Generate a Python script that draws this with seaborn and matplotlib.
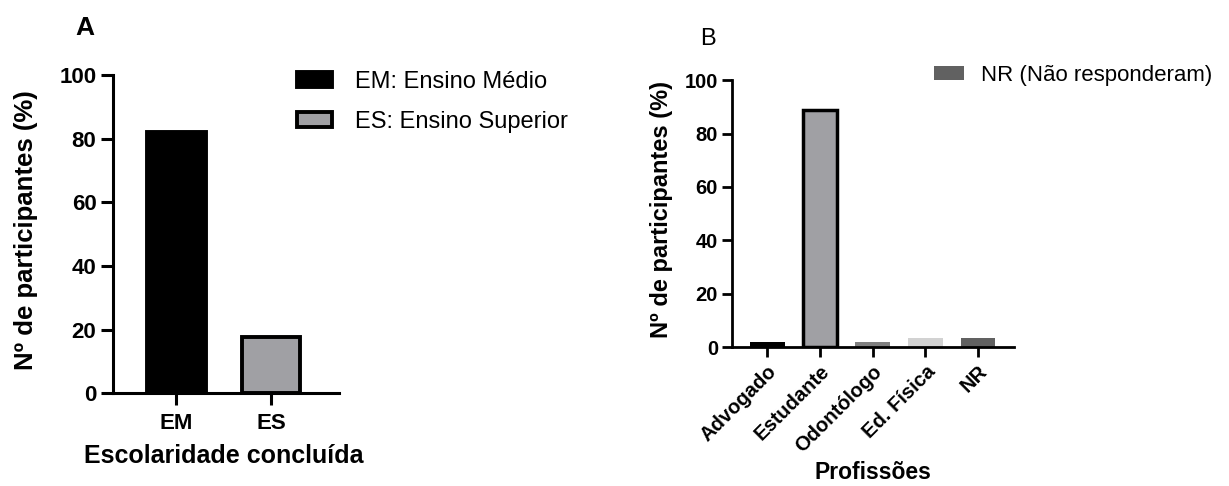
import matplotlib
matplotlib.use('Agg')
import matplotlib.pyplot as plt
import matplotlib.patches as mpatches
import seaborn as sns
import pandas as pd

# --- Data ---
escolaridade = ['EM', 'ES']
escolaridade_pct = [82, 17.5]
escolaridade_cores = ['#000000', '#a0a0a4']
escolaridade_legenda = ['EM: Ensino Médio', 'ES: Ensino Superior']

profissoes = ['Advogado', 'Estudante', 'Odontólogo', 'Ed. Física', 'NR']
profissoes_pct = [1.8, 89, 1.8, 3.5, 3.5]
profissoes_cores = ['#000000', '#a0a0a4', '#808080', '#d2d2d2', '#616161']

sns.set_style('ticks')
plt.rcParams['font.family'] = ['Liberation Sans', 'DejaVu Sans']
for k in ['text.color', 'axes.labelcolor', 'xtick.color', 'ytick.color', 'axes.edgecolor']:
    plt.rcParams[k] = 'black'

fig = plt.figure(figsize=(12.29, 4.86), dpi=100)

# --- Panel A ---
axA = fig.add_axes([0.092, 0.191, 0.184, 0.655])
dfA = pd.DataFrame({'cat': escolaridade, 'pct': escolaridade_pct})
sns.barplot(data=dfA, x='cat', y='pct', hue='cat', palette=escolaridade_cores,
            width=0.62, edgecolor='black', linewidth=2.8, legend=False, ax=axA)
axA.set_xlim(-0.67, 1.72)
axA.set_ylim(0, 100)
axA.set_yticks([0, 20, 40, 60, 80, 100])
axA.set_xlabel('Escolaridade concluída', fontsize=18, fontweight='bold', va='center')
axA.set_ylabel('Nº de participantes (%)', fontsize=18.5, fontweight='bold', va='center')
axA.xaxis.set_label_coords(0.49, -0.198)
axA.yaxis.set_label_coords(-0.385, 0.513)
sns.despine(ax=axA)
for s in ['left', 'bottom']:
    axA.spines[s].set_linewidth(2.2)
axA.tick_params(width=2.2, length=8.5, labelsize=16)
axA.tick_params(axis='x', pad=6)
for lab in axA.get_xticklabels() + axA.get_yticklabels():
    lab.set_fontweight('bold')
handlesA = [mpatches.Patch(facecolor=c, edgecolor='black', linewidth=2.8) for c in escolaridade_cores]
fig.legend(handlesA, escolaridade_legenda, loc='center left',
           bbox_to_anchor=(297 / 1229, 1 - 102 / 486), frameon=False, fontsize=17,
           handlelength=1.5, handleheight=0.62, labelspacing=0.75, handletextpad=0.95,
           borderpad=0, borderaxespad=0)
fig.text(85 / 1229, 1 - 28 / 486, 'A', fontsize=19, fontweight='bold', ha='center', va='center')

# --- Panel B ---
axB = fig.add_axes([0.596, 0.286, 0.229, 0.549])
dfB = pd.DataFrame({'prof': profissoes, 'pct': profissoes_pct})
sns.barplot(data=dfB, x='prof', y='pct', hue='prof', palette=profissoes_cores,
            width=0.66, linewidth=0, legend=False, ax=axB)
# only the Estudante bar has a black outline
axB.patches[1].set_edgecolor('black')
axB.patches[1].set_linewidth(2.5)
axB.set_xlim(-0.66, 4.68)
axB.set_ylim(0, 100)
axB.set_yticks([0, 20, 40, 60, 80, 100])
axB.set_xlabel('Profissões', fontsize=16.5, fontweight='bold', va='center')
axB.set_ylabel('Nº de participantes (%)', fontsize=17, fontweight='bold', va='center')
axB.xaxis.set_label_coords(0.5, -0.472)
axB.yaxis.set_label_coords(-0.252, 0.517)
sns.despine(ax=axB)
for s in ['left', 'bottom']:
    axB.spines[s].set_linewidth(2.0)
axB.tick_params(width=2.0, length=7, labelsize=14.5)
plt.setp(axB.get_xticklabels(), rotation=45, ha='right', rotation_mode='anchor')
for lab in axB.get_xticklabels() + axB.get_yticklabels():
    lab.set_fontweight('bold')
handlesB = [mpatches.Patch(facecolor=profissoes_cores[4], edgecolor='none')]
fig.legend(handlesB, ['NR (Não responderam)'], loc='center left',
           bbox_to_anchor=(934 / 1229, 1 - 75 / 486), frameon=False, fontsize=16,
           handlelength=1.35, handleheight=0.6, handletextpad=0.77,
           borderpad=0, borderaxespad=0)
fig.text(708 / 1229, 1 - 39 / 486, 'B', fontsize=17, ha='center', va='center')

fig.savefig('out.png', dpi=100)
